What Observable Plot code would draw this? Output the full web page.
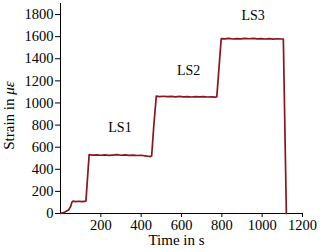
<!DOCTYPE html>
<html>
<head>
<meta charset="utf-8">
<script src="https://cdn.jsdelivr.net/npm/d3@7"></script>
<script src="https://cdn.jsdelivr.net/npm/@observablehq/plot@0.6"></script>
<style>
  html, body { margin: 0; padding: 0; background: #fff; }
</style>
</head>
<body>
<div id="chart"></div>
<script>
const time = [0,10,20,30,35,40,50,56,62,75,90,105,118,126,134,142,160,180,200,220,240,260,280,300,320,340,360,380,400,420,435,445,452,462,475,490,510,530,550,570,590,610,630,650,670,690,710,730,750,765,775,786,797,815,835,855,875,895,915,935,955,975,995,1015,1035,1055,1075,1095,1105,1120];
const strain = [0,6,10,22,27,32,62,100,112,108,111,107,110,112,320,532,528,531,527,530,526,529,532,527,530,526,528,525,527,522,518,515,520,780,1062,1058,1061,1057,1060,1056,1059,1055,1058,1054,1057,1055,1058,1054,1056,1053,1055,1320,1583,1580,1584,1579,1583,1580,1585,1581,1584,1580,1583,1579,1582,1578,1581,1579,1578,0];

const stageNames = ["LS1", "LS2", "LS3"];
const stageTime = [295, 635, 955];
const stageStrain = [778, 1294, 1792];

const xTicks = [200, 400, 600, 800, 1000, 1200];
const yTicks = [0, 200, 400, 600, 800, 1000, 1200, 1400, 1600, 1800];

const series = time.map((t, i) => ({t, s: strain[i]}));
const stages = stageNames.map((n, i) => ({n, t: stageTime[i], s: stageStrain[i]}));

const chart = Plot.plot({
  width: 320,
  height: 252,
  marginLeft: 60,
  marginRight: 18,
  marginTop: 3,
  marginBottom: 39,
  style: {fontFamily: "'Liberation Serif', 'Times New Roman', serif", fontSize: "14px", background: "#fff", color: "#000"},
  x: {domain: [0, 1200]},
  y: {domain: [0, 1900]},
  marks: [
    Plot.axisX({ticks: xTicks, tickFormat: d3.format("d"), tickSize: 4, tickPadding: 2, label: null, fontSize: 14.5}),
    Plot.axisY({ticks: yTicks, tickFormat: d3.format("d"), tickSize: 5, tickPadding: 2, label: null, fontSize: 14.5}),
    Plot.ruleX([0], {stroke: "#000", strokeWidth: 1}),
    Plot.ruleY([0], {stroke: "#000", strokeWidth: 1}),
    Plot.line(series, {x: "t", y: "s", stroke: "#8b1421", strokeWidth: 1.7}),
    Plot.text(stages, {x: "t", y: "s", text: "n", fontSize: 14}),
    Plot.text(["Time in s"], {frameAnchor: "bottom", textAnchor: "middle", dy: 31, dx: -5, fontSize: 15}),
    Plot.text(["Strain in με"], {frameAnchor: "left", textAnchor: "middle", dx: -51, dy: 7, rotate: -90, fontSize: 15})
  ]
});

d3.select(chart).selectAll("text").each(function() {
  const el = d3.select(this);
  if (el.text() === "Strain in με") {
    el.text("");
    el.append("tspan").text("Strain in ");
    el.append("tspan").attr("font-style", "italic").text("με");
  }
});

document.getElementById("chart").appendChild(chart);
</script>
</body>
</html>
